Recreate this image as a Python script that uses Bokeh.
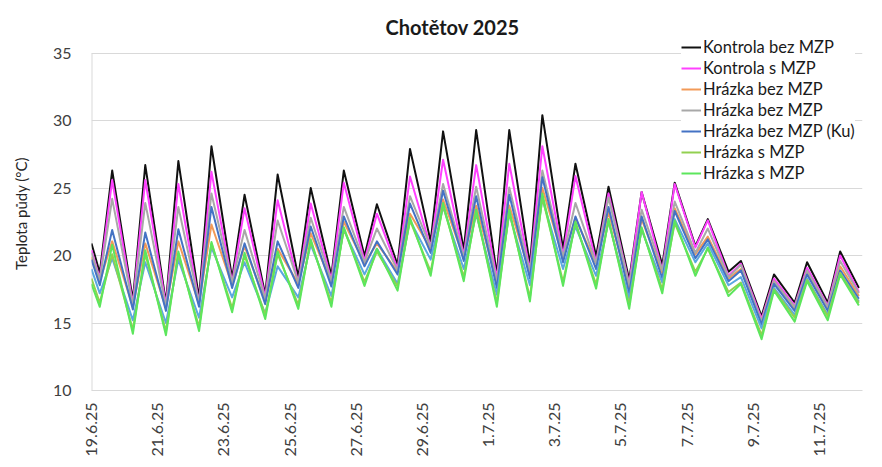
import math
from bokeh.plotting import figure
from bokeh.models import Legend, LegendItem, FixedTicker, Range1d
from bokeh.embed import file_html
from bokeh.resources import INLINE

# ---------------- data ----------------
title_text = "Chotětov 2025"
y_label = "Teplota půdy (°C)"
tick_days = [0, 2, 4, 6, 8, 10, 12, 14, 16, 18, 20, 22]
tick_labels = ["19.6.25", "21.6.25", "23.6.25", "25.6.25", "27.6.25", "29.6.25",
               "1.7.25", "3.7.25", "5.7.25", "7.7.25", "9.7.25", "11.7.25"]
y_ticks = [10, 15, 20, 25, 30, 35]

series_names = ["Kontrola bez MZP", "Kontrola s MZP", "Hrázka bez MZP", "Hrázka bez MZP",
                "Hrázka bez MZP (Ku)", None, "Hrázka s MZP", "Hrázka s MZP"]
series_colors = ["#111111", "#FF40FF", "#F29A58", "#A8A8A8",
                 "#4472C4", "#5BA8E0", "#92D050", "#5CE65C"]

# hour of daily minimum / maximum, and time of last record (days since 19.6.25 0:00)
min_hour = 6
max_hour = 15
end_day = 23.19

black_start, black_end = 20.9, 17.6
black_min = [18.7, 16.7, 16.5, 16.85, 18.3, 17.1, 18.4, 18.5, 19.95, 19.3, 21.05, 20.4,
             18.6, 19.3, 20.5, 19.95, 18.2, 19.3, 20.7, 18.8, 15.5, 16.5, 16.5]
black_max = [26.3, 26.7, 27.0, 28.1, 24.5, 26.0, 25.0, 26.3, 23.8, 27.9, 29.2, 29.3,
             29.3, 30.4, 26.8, 25.1, 24.7, 25.4, 22.7, 19.6, 18.6, 19.5, 20.3]

magenta_start, magenta_end = 20.4, 17.3
magenta_min = [18.3, 16.4, 16.3, 16.5, 18.0, 16.9, 18.0, 18.2, 19.6, 19.0, 20.6, 20.0,
               18.3, 18.9, 20.0, 19.5, 17.9, 18.9, 20.6, 18.5, 15.3, 16.3, 16.3]
magenta_max = [25.6, 25.6, 25.3, 26.2, 23.5, 24.1, 23.85, 25.4, 23.1, 25.85, 27.1, 26.7,
               26.8, 28.1, 25.9, 24.6, 24.7, 25.3, 22.6, 19.4, 18.3, 19.1, 20.0]

orange_start, orange_end = 19.9, 17.0
orange_min = [18.1, 16.2, 16.1, 16.4, 17.8, 16.6, 17.9, 18.0, 19.4, 18.8, 20.5, 19.8,
              18.0, 18.7, 19.8, 19.4, 17.6, 18.7, 20.1, 18.3, 15.1, 16.1, 16.1]
orange_max = [21.05, 20.9, 21.05, 22.3, 20.7, 20.5, 21.65, 22.5, 20.9, 23.1, 24.15, 23.7,
              23.7, 25.0, 22.75, 23.2, 22.7, 23.5, 21.4, 19.0, 18.1, 18.7, 19.2]

gray_start, gray_end = 20.2, 17.2
gray_min = [18.2, 16.3, 16.2, 16.5, 18.0, 16.8, 18.0, 18.1, 19.5, 18.9, 20.6, 19.9,
            18.1, 18.8, 19.9, 19.4, 17.8, 18.9, 20.2, 18.4, 15.1, 16.2, 16.2]
gray_max = [24.2, 23.9, 23.6, 24.6, 21.9, 22.6, 22.8, 23.6, 22.0, 24.4, 25.3, 25.1,
            25.05, 26.3, 23.9, 24.3, 23.4, 24.0, 22.0, 19.3, 18.1, 18.9, 19.6]

blue_start, blue_end = 19.7, 16.8
blue_min = [17.8, 16.0, 15.9, 16.2, 17.6, 16.4, 17.6, 17.7, 19.2, 18.6, 20.2, 19.6,
            17.6, 18.3, 19.5, 19.0, 17.2, 18.3, 19.8, 18.1, 14.9, 15.9, 15.9]
blue_max = [21.9, 21.7, 21.95, 23.6, 20.9, 21.05, 22.15, 22.9, 21.05, 23.85, 24.8, 24.4,
            24.5, 25.8, 22.9, 23.6, 22.9, 23.3, 21.2, 18.9, 17.9, 18.6, 18.9]

lightblue_start, lightblue_end = 19.0, 16.6
lightblue_min = [17.2, 15.2, 15.0, 15.4, 16.9, 15.7, 16.9, 17.0, 18.6, 17.9, 19.7, 19.0,
                 17.1, 17.8, 19.0, 18.5, 16.8, 18.0, 19.5, 17.8, 14.6, 15.6, 15.6]
lightblue_max = [19.8, 19.5, 19.7, 20.6, 19.5, 19.2, 20.8, 21.9, 20.5, 22.6, 23.6, 23.1,
                 23.1, 24.2, 22.15, 22.5, 21.9, 22.7, 20.9, 18.4, 17.6, 18.3, 18.7]

ygreen_start, ygreen_end = 18.3, 16.5
ygreen_min = [16.5, 14.5, 14.4, 14.7, 16.1, 15.6, 16.35, 16.5, 18.05, 17.7, 18.8, 18.4,
              16.5, 16.9, 18.05, 17.85, 16.35, 17.5, 18.8, 17.3, 14.1, 15.4, 15.5]
ygreen_max = [20.1, 20.1, 20.1, 20.9, 20.0, 20.1, 21.05, 21.95, 20.3, 22.6, 23.7, 23.2,
              23.2, 24.3, 22.4, 22.6, 22.0, 22.4, 20.5, 18.0, 17.5, 18.2, 18.7]

bgreen_start, bgreen_end = 17.9, 16.3
bgreen_min = [16.2, 14.2, 14.1, 14.4, 15.8, 15.3, 16.05, 16.2, 17.75, 17.4, 18.5, 18.1,
              16.2, 16.6, 17.75, 17.55, 16.05, 17.2, 18.5, 17.0, 13.8, 15.1, 15.2]
bgreen_max = [20.8, 20.4, 20.3, 21.0, 20.2, 20.3, 21.2, 22.1, 20.5, 22.8, 23.9, 23.4,
              23.4, 24.6, 22.5, 22.7, 22.1, 22.6, 20.6, 17.9, 17.4, 18.1, 18.6]

series_data = [
    (black_start, black_min, black_max, black_end),
    (magenta_start, magenta_min, magenta_max, magenta_end),
    (orange_start, orange_min, orange_max, orange_end),
    (gray_start, gray_min, gray_max, gray_end),
    (blue_start, blue_min, blue_max, blue_end),
    (lightblue_start, lightblue_min, lightblue_max, lightblue_end),
    (ygreen_start, ygreen_min, ygreen_max, ygreen_end),
    (bgreen_start, bgreen_min, bgreen_max, bgreen_end),
]


def build(start, mins, maxs, end):
    xs, ys = [0.0], [start]
    for d, (lo, hi) in enumerate(zip(mins, maxs)):
        xs += [d + min_hour / 24.0, d + max_hour / 24.0]
        ys += [lo, hi]
    xs.append(end_day)
    ys.append(end)
    return xs, ys


FONT = "Lato"
TXT = "#404040"
GRID = "#d9d9d9"

p = figure(width=874, height=459, output_backend="svg", toolbar_location=None,
           x_range=Range1d(0, 23.3), y_range=Range1d(10, 36.23),
           min_border_left=91, min_border_right=12, min_border_top=36, min_border_bottom=61)
p.outline_line_color = None
p.background_fill_color = "white"

p.title.text = title_text
p.title.align = "left"
p.title.offset = 294
p.title.standoff = -5
p.title.text_font = FONT
p.title.text_font_size = "20px"
p.title.text_font_style = "bold"
p.title.text_color = "#1a1a1a"

# y axis line only spanning the tick range
p.segment(x0=[0], y0=[y_ticks[0]], x1=[0], y1=[y_ticks[-1]], line_color=GRID, line_width=2)

renderers = []
for (start, mins, maxs, end), col in zip(series_data, series_colors):
    xs, ys = build(start, mins, maxs, end)
    r = p.line(xs, ys, line_color=col, line_width=2, line_join="round")
    renderers.append(r)

items = [LegendItem(label=n, renderers=[r]) for n, r in zip(series_names, renderers) if n]
legend = Legend(items=items, location=(590, 207), orientation="vertical",
                glyph_width=20, glyph_height=20, label_height=20, spacing=1,
                label_standoff=2, padding=0, margin=0,
                border_line_color=None, background_fill_color="white", background_fill_alpha=1.0,
                label_text_font=FONT, label_text_font_size="16.5px", label_text_color="#1a1a1a")
p.add_layout(legend, "center")

# x axis
p.xaxis.ticker = FixedTicker(ticks=tick_days)
p.xaxis.major_label_overrides = {d: lab for d, lab in zip(tick_days, tick_labels)}
p.xaxis.major_label_orientation = math.pi / 2
p.xaxis.major_label_text_font = FONT
p.xaxis.major_label_text_font_size = "16px"
p.xaxis.major_label_text_color = TXT
p.xaxis.major_tick_line_color = None
p.xaxis.minor_tick_line_color = None
p.xaxis.axis_line_color = GRID
p.xaxis.major_label_standoff = 6

# y axis
p.yaxis.ticker = FixedTicker(ticks=y_ticks)
p.yaxis.major_label_text_font = FONT
p.yaxis.major_label_text_font_size = "16px"
p.yaxis.major_label_text_color = TXT
p.yaxis.major_tick_line_color = None
p.yaxis.minor_tick_line_color = None
p.yaxis.axis_line_color = None
p.yaxis.major_label_standoff = 14
p.yaxis.axis_label = y_label
p.yaxis.axis_label_text_font = FONT
p.yaxis.axis_label_text_font_size = "15px"
p.yaxis.axis_label_text_font_style = "normal"
p.yaxis.axis_label_text_color = "#262626"
p.yaxis.axis_label_standoff = 20

p.xgrid.grid_line_color = None
p.ygrid.grid_line_color = GRID
p.ygrid.grid_line_width = 1

open("out.html", "w").write(file_html(p, INLINE))
